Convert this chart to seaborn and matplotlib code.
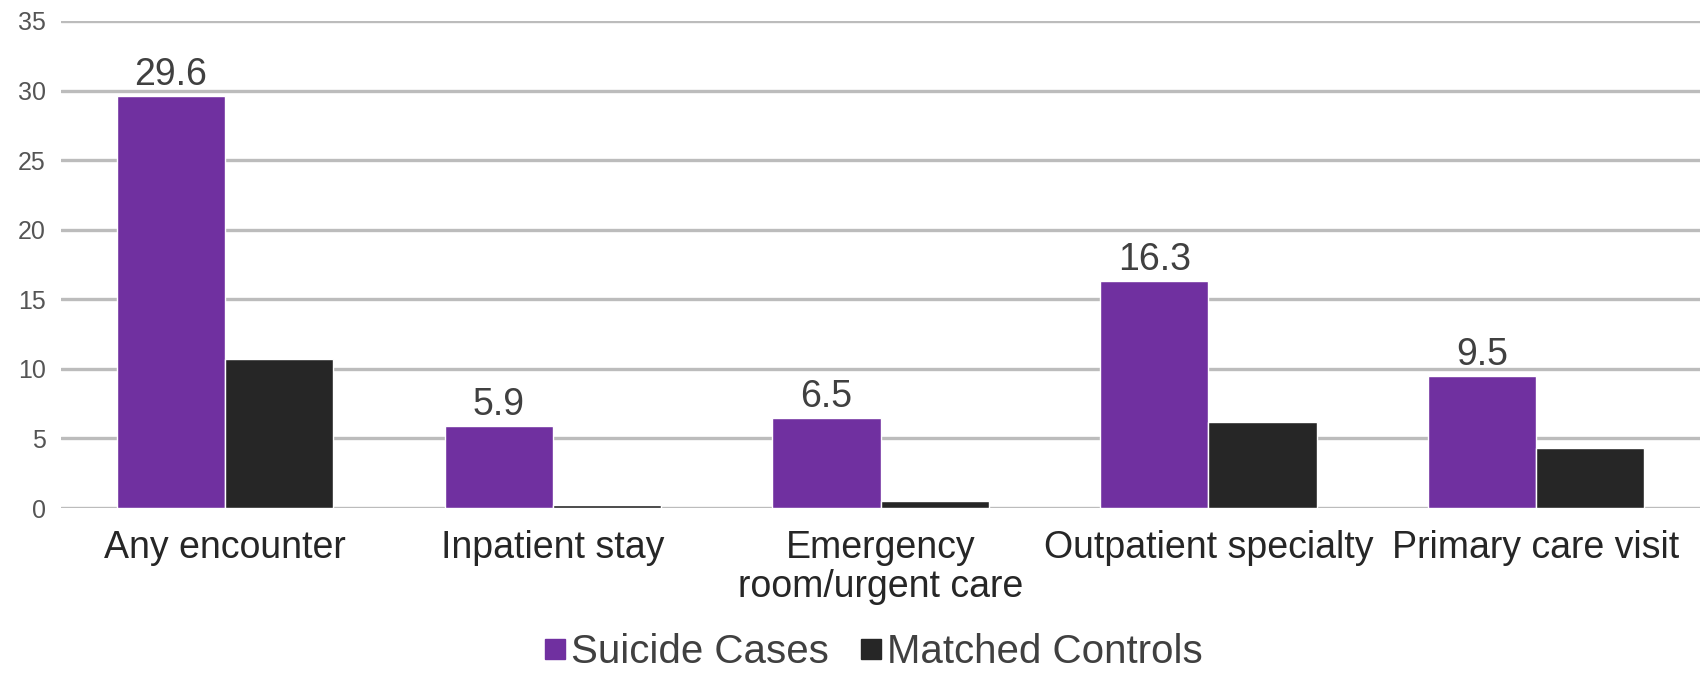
import matplotlib
matplotlib.use("Agg")
import matplotlib.pyplot as plt
import seaborn as sns
import pandas as pd

categories = ["Any encounter", "Inpatient stay", "Emergency\nroom/urgent care",
              "Outpatient specialty", "Primary care visit"]
suicide_cases = [29.6, 5.9, 6.5, 16.3, 9.5]
matched_controls = [10.7, 0.2, 0.5, 6.2, 4.3]
series_names = ["Suicide Cases", "Matched Controls"]
y_ticks = [0, 5, 10, 15, 20, 25, 30, 35]

df = pd.DataFrame({
    "category": categories * 2,
    "value": suicide_cases + matched_controls,
    "series": [series_names[0]] * len(categories) + [series_names[1]] * len(categories),
})

sns.set_theme(style="white")
plt.rcParams["font.family"] = ["Liberation Sans", "DejaVu Sans"]

fig = plt.figure(figsize=(17, 6.77), dpi=100)
ax = fig.add_axes([0.036, 0.2496, 0.964, 0.7194])

palette = {series_names[0]: "#7030A0", series_names[1]: "#262626"}
sns.barplot(data=df, x="category", y="value", hue="series", palette=palette,
            order=categories, hue_order=series_names, width=0.66, saturation=1,
            ax=ax, legend=False, zorder=3)

ax.set_ylim(0, 35)
ax.set_xlim(-0.5, 4.5)
ax.set_yticks(y_ticks)
ax.yaxis.grid(True, color="#bcbcbc", linewidth=2.4, zorder=0)
ax.set_axisbelow(True)
for s in ax.spines.values():
    s.set_visible(False)
ax.set_xlabel("")
ax.set_ylabel("")
ax.tick_params(axis="y", labelsize=18, labelcolor="#555555", length=0, pad=11)
ax.tick_params(axis="x", labelsize=27, labelcolor="#262626", length=0, pad=16)
for lbl in ax.get_xticklabels():
    lbl.set_linespacing(1.1)

# value labels above the suicide-case bars
ax.bar_label(ax.containers[0], labels=[f"{v:.1f}" for v in suicide_cases],
             fontsize=27, color="#404040", padding=2)

# legend with square markers along the bottom
handles = [plt.Line2D([], [], marker="s", linestyle="", markersize=14,
                      color=palette[n]) for n in series_names]
fig.legend(handles, series_names, loc="center", ncol=2, frameon=False,
           fontsize=29, handlelength=0.5, handletextpad=0.15, columnspacing=0.8,
           bbox_to_anchor=(0.514, 0.037), labelcolor="#404040",
           borderpad=0, borderaxespad=0)

fig.savefig("out.png", dpi=100)
